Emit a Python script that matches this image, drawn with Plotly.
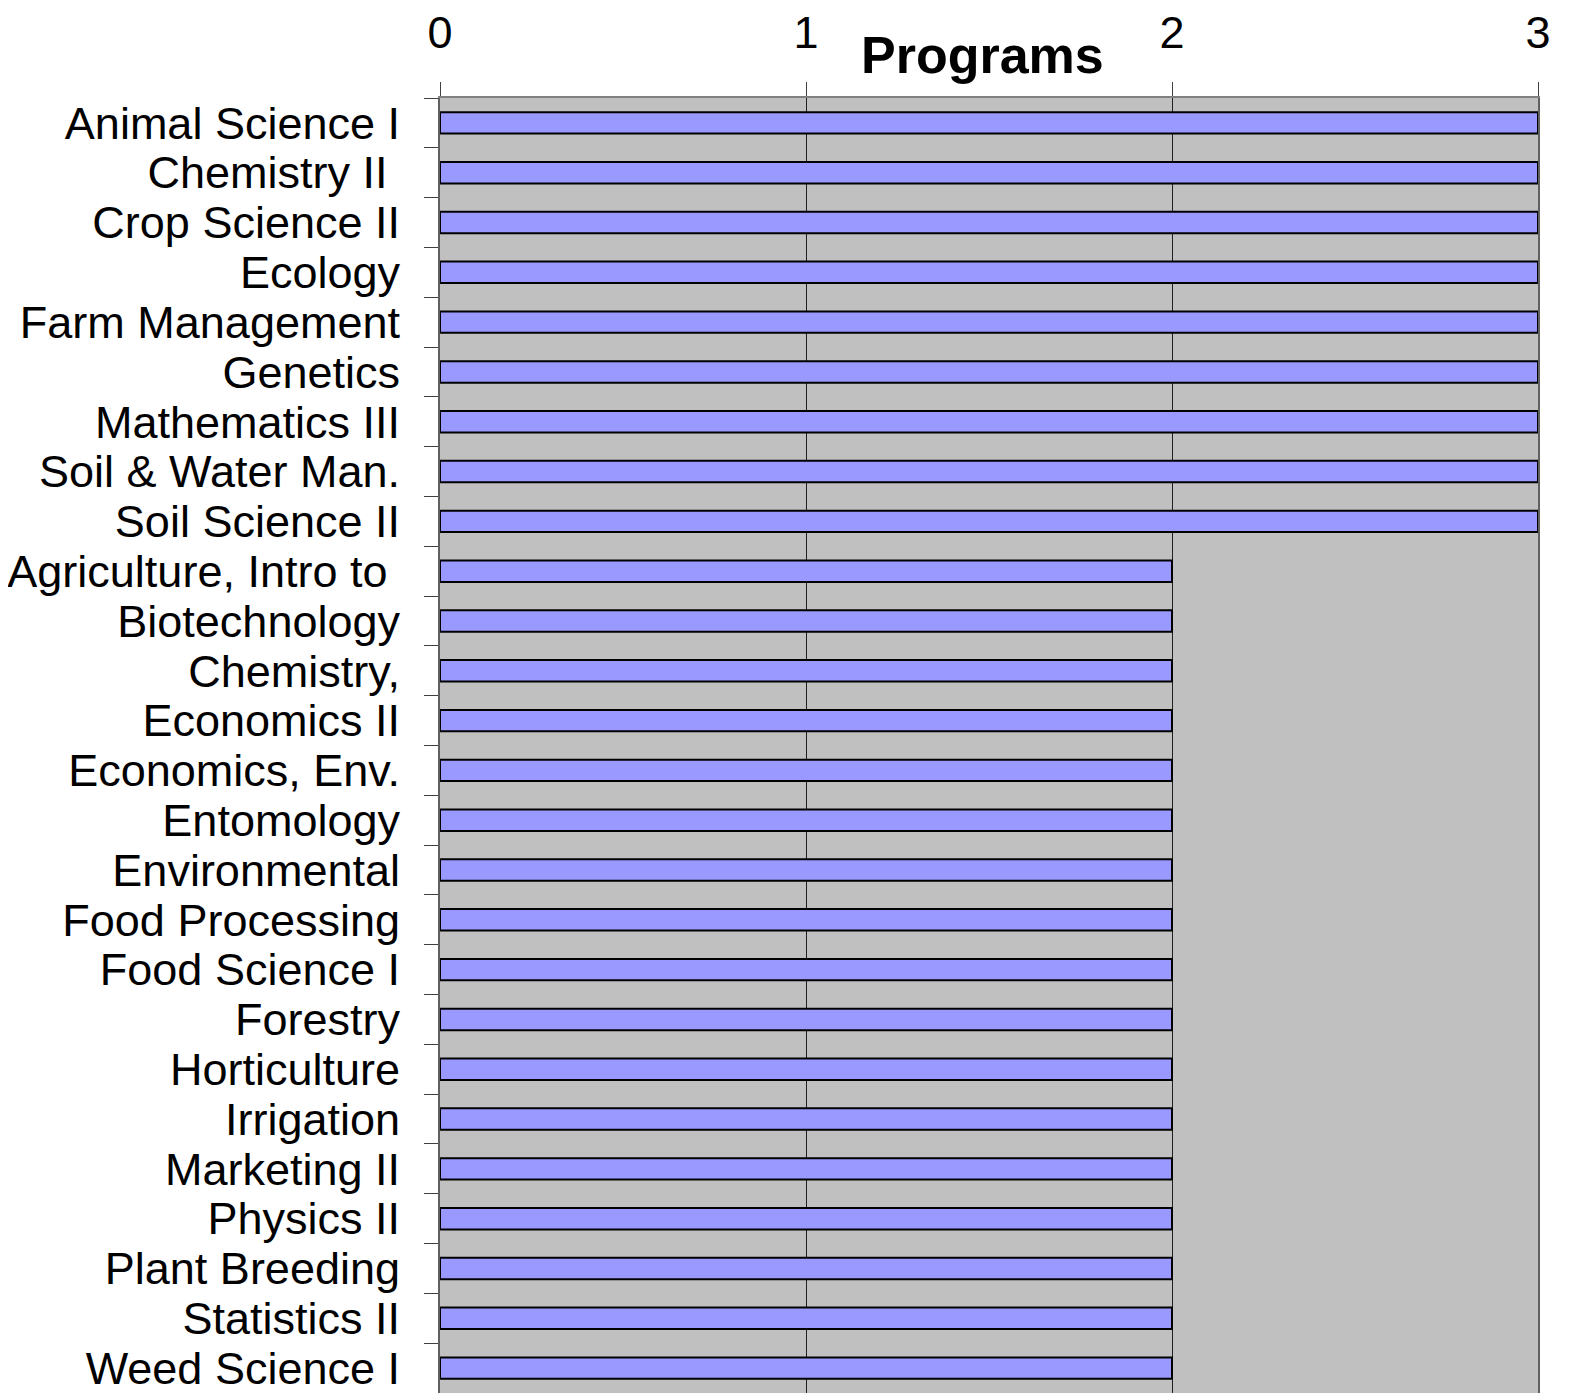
import plotly.graph_objects as go

categories = [
    "Animal Science I", "Chemistry II\u00a0", "Crop Science II", "Ecology",
    "Farm Management", "Genetics", "Mathematics III", "Soil & Water Man.",
    "Soil Science II", "Agriculture, Intro to\u00a0", "Biotechnology", "Chemistry,",
    "Economics II", "Economics, Env.", "Entomology", "Environmental",
    "Food Processing", "Food Science I", "Forestry", "Horticulture",
    "Irrigation", "Marketing II", "Physics II", "Plant Breeding",
    "Statistics II", "Weed Science I",
]
programs = [3, 3, 3, 3, 3, 3, 3, 3, 3,
            2, 2, 2, 2, 2, 2, 2, 2, 2, 2, 2, 2, 2, 2, 2, 2, 2]
x_ticks = [0, 1, 2, 3]

FONT = "Liberation Sans, Arial, sans-serif"

fig = go.Figure(go.Bar(
    x=programs, y=categories, orientation="h",
    width=0.43,
    marker=dict(color="#9999FF", line=dict(color="black", width=2)),
))

# page body has an 8px default margin, so the figure is sized/offset to compensate
fig.update_layout(
    width=1564, height=1385,
    margin=dict(l=432, r=34, t=90, b=0),
    paper_bgcolor="white",
    plot_bgcolor="#C0C0C0",
    showlegend=False,
    font=dict(family=FONT, color="black"),
)

fig.update_xaxes(
    side="top", range=[0, 3], tickvals=x_ticks,
    ticks="outside", ticklen=14, tickcolor="#404040", tickwidth=1,
    tickfont=dict(size=45, family=FONT, color="black"),
    ticklabelstandoff=16,
    showgrid=True, gridcolor="#202020", gridwidth=1,
    showline=True, linecolor="#808080", linewidth=2, mirror=True,
    zeroline=False, automargin=False,
)
fig.update_yaxes(
    autorange="reversed", tickson="boundaries",
    tickmode="array", tickvals=categories, ticktext=categories,
    ticks="outside", ticklen=14, tickcolor="#404040", tickwidth=1,
    tickfont=dict(size=45, family=FONT, color="black"),
    ticklabelstandoff=29,
    showgrid=False,
    showline=True, linecolor="#606060", linewidth=2, mirror=True,
    automargin=False,
)

fig.add_annotation(
    text="<b>Programs</b>", x=0.494, y=1, xref="paper", yref="paper",
    yshift=43, showarrow=False, yanchor="middle",
    font=dict(size=52, family=FONT, color="black"),
)

fig.write_html("out.html")
